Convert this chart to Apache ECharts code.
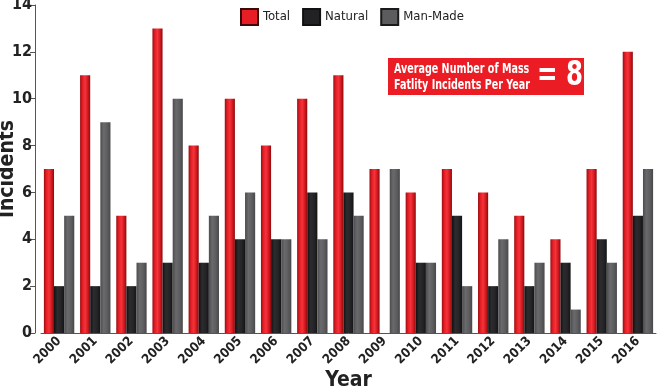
<!DOCTYPE html>
<html>
<head>
<meta charset="utf-8">
<script src="https://cdn.jsdelivr.net/npm/echarts@6/dist/echarts.min.js"></script>
<style>
  html, body { margin: 0; padding: 0; background: #fff; }
  #chart { width: 658px; height: 388px; }
</style>
</head>
<body>
<div id="chart"></div>
<script>
const years = ["2000", "2001", "2002", "2003", "2004", "2005", "2006", "2007", "2008",
  "2009", "2010", "2011", "2012", "2013", "2014", "2015", "2016"];
const total = [7, 11, 5, 13, 8, 10, 8, 10, 11, 7, 6, 7, 6, 5, 4, 7, 12];
const natural = [2, 2, 2, 3, 3, 4, 4, 6, 6, 0, 3, 5, 2, 2, 3, 4, 5];
const manMade = [5, 9, 3, 10, 5, 6, 4, 4, 5, 7, 3, 2, 4, 3, 1, 3, 7];
const yTicks = [0, 2, 4, 6, 8, 10, 12, 14];

const font = '"DejaVu Sans Condensed", "Liberation Sans Narrow", "Arial Narrow", sans-serif';

const grad = (stops) => new echarts.graphic.LinearGradient(0, 0, 1, 0,
  stops.map((c, i) => ({ offset: i / (stops.length - 1), color: c })));

const redFill = grad(["#9a0e12", "#e61e26", "#f4343a", "#d41a20", "#8a0a0e"]);
const blackFill = grad(["#111113", "#2c2c2e", "#252527", "#141416"]);
const grayFill = grad(["#4c4c4e", "#6a6a6c", "#5e5e60", "#48484a"]);

const myChart = echarts.init(document.getElementById("chart"));
myChart.setOption({
  animation: false,
  textStyle: { fontFamily: font },
  grid: { left: 41, right: 2, top: 5, bottom: 55, outerBoundsMode: "none", containLabel: false },
  legend: {
    top: 3,
    left: 235,
    itemWidth: 17,
    itemHeight: 16,
    itemGap: 12,
    icon: "rect",
    textStyle: { fontSize: 13, color: "#222", fontFamily: font },
    data: [
      { name: "Total", itemStyle: { color: "#e81e26", borderColor: "#3c0808", borderWidth: 2 } },
      { name: "Natural", itemStyle: { color: "#222224", borderColor: "#111", borderWidth: 2 } },
      { name: "Man-Made", itemStyle: { color: "#5c5c5e", borderColor: "#1a1a1a", borderWidth: 2 } },
    ],
  },
  xAxis: {
    type: "category",
    data: years,
    name: "Year",
    nameLocation: "middle",
    nameGap: 37,
    nameMoveOverlap: false,
    nameTextStyle: { fontSize: 21, fontWeight: "bold", color: "#222", fontFamily: font },
    axisLine: { lineStyle: { color: "#555", width: 1 } },
    axisTick: { length: 5, lineStyle: { color: "#555" } },
    axisLabel: {
      rotate: 45,
      fontSize: 13,
      fontWeight: "bold",
      color: "#222",
      margin: 6,
      fontFamily: font,
    },
  },
  yAxis: {
    type: "value",
    min: yTicks[0],
    max: yTicks[yTicks.length - 1],
    interval: 2,
    offset: 6,
    name: "Incidents",
    nameLocation: "middle",
    nameGap: 17,
    nameMoveOverlap: false,
    nameTextStyle: { fontSize: 21, fontWeight: "bold", color: "#222", fontFamily: font },
    axisLine: { show: true, lineStyle: { color: "#555", width: 1 } },
    axisTick: { show: true, length: 5, lineStyle: { color: "#555" } },
    splitLine: { show: false },
    axisLabel: {
      fontSize: 16,
      fontWeight: "bold",
      color: "#222",
      margin: 3,
      fontFamily: font,
    },
  },
  series: [
    {
      name: "Total",
      type: "bar",
      data: total,
      barGap: "0%",
      barCategoryGap: "16%",
      itemStyle: { color: redFill },
    },
    {
      name: "Natural",
      type: "bar",
      data: natural,
      itemStyle: { color: blackFill },
    },
    {
      name: "Man-Made",
      type: "bar",
      data: manMade,
      itemStyle: { color: grayFill },
    },
  ],
  graphic: [
    {
      type: "group",
      left: 388,
      top: 58,
      children: [
        {
          type: "rect",
          shape: { x: 0, y: 0, width: 196, height: 37 },
          style: { fill: "#ec1c24" },
        },
        {
          type: "text",
          x: 6,
          y: 3,
          scaleX: 0.76,
          style: {
            text: "Average Number of Mass\nFatlity Incidents Per Year",
            fill: "#fff",
            font: "bold 14px " + font,
            lineHeight: 16,
          },
        },
        {
          type: "text",
          x: 149,
          y: 1,
          scaleX: 0.8,
          style: {
            text: "= 8",
            fill: "#fff",
            font: "bold 34px " + font,
          },
        },
      ],
    },
  ],
});
</script>
</body>
</html>
